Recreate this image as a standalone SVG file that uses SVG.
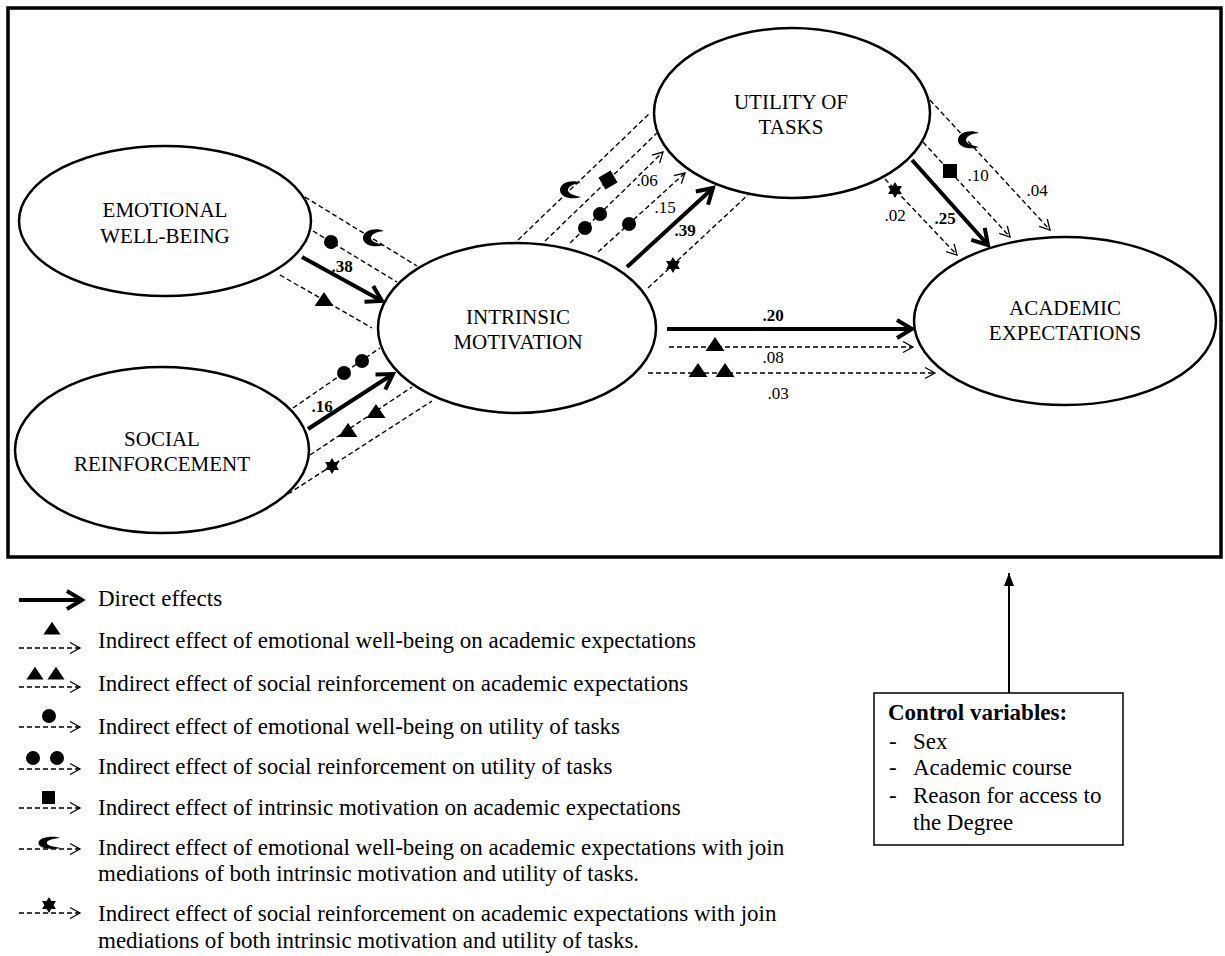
<svg xmlns="http://www.w3.org/2000/svg" width="1225" height="956" viewBox="0 0 1225 956">
<style>
.node ellipse{fill:#fff;stroke:#000;stroke-width:2.5}
.lbl{font-family:"Liberation Serif","Times New Roman",serif;font-size:21px;text-anchor:middle;fill:#000}
.coef{font-family:"Liberation Serif","Times New Roman",serif;font-size:17px;text-anchor:middle;fill:#000}
.b{font-weight:bold}
.direct{stroke:#000;stroke-width:4;fill:none;marker-end:url(#hd)}
.ind{stroke:#000;stroke-width:1.4;stroke-dasharray:5 3;fill:none}
.ia{marker-end:url(#hi)}
.leg{font-family:"Liberation Serif","Times New Roman",serif;font-size:23px;fill:#000}
.sym{fill:#000;stroke:none}
</style>
<defs>
<marker id="hd" markerUnits="userSpaceOnUse" viewBox="-20 -13 24 26" markerWidth="24" markerHeight="26" refX="0" refY="0" orient="auto">
<path d="M-15,-9 L0,0 L-15,9" fill="none" stroke="#000" stroke-width="4" stroke-dasharray="none"/>
</marker>
<marker id="hi" markerUnits="userSpaceOnUse" viewBox="-13 -8 15 16" markerWidth="15" markerHeight="16" refX="0" refY="0" orient="auto">
<path d="M-10,-5.5 L0,0 L-10,5.5" fill="none" stroke="#000" stroke-width="1.3" stroke-dasharray="none"/>
</marker>
<marker id="hc" markerUnits="userSpaceOnUse" viewBox="-14 -7 15 14" markerWidth="15" markerHeight="14" refX="0" refY="0" orient="auto">
<path d="M-13,-5 L0,0 L-13,5 Z" fill="#000" stroke="none"/>
</marker>
<path id="tri" d="M0,-8 L9.5,6 L-9.5,6 Z"/>
<circle id="dot" r="7"/>
<rect id="sq" x="-7" y="-7" width="14" height="14"/>
<path id="cres" d="M11,-7 C3,-11 -10,-8 -10,0 C-10,8 3,10 11,7 C2,5 -2,3 -2,0 C-2,-3 2,-6 11,-7 Z"/>
<path id="star" d="M0,-8 L6.93,4 L-6.93,4 Z M0,8 L-6.93,-4 L6.93,-4 Z"/>
</defs>

<rect x="8" y="8" width="1213" height="549" fill="none" stroke="#000" stroke-width="3.5"/>

<g id="node-emotional" class="node">
<ellipse cx="165" cy="221" rx="146" ry="75"/>
<text class="lbl" x="165" y="217">EMOTIONAL</text>
<text class="lbl" x="165" y="243">WELL-BEING</text>
</g>
<g id="node-social" class="node">
<ellipse cx="162" cy="450" rx="147" ry="83"/>
<text class="lbl" x="162" y="446">SOCIAL</text>
<text class="lbl" x="162" y="471">REINFORCEMENT</text>
</g>
<g id="node-intrinsic" class="node">
<ellipse cx="517" cy="328" rx="139" ry="85"/>
<text class="lbl" x="518" y="324">INTRINSIC</text>
<text class="lbl" x="518" y="349">MOTIVATION</text>
</g>
<g id="node-utility" class="node">
<ellipse cx="792" cy="113" rx="138" ry="85"/>
<text class="lbl" x="791" y="109">UTILITY OF</text>
<text class="lbl" x="791" y="134">TASKS</text>
</g>
<g id="node-academic" class="node">
<ellipse cx="1065" cy="321" rx="151" ry="84"/>
<text class="lbl" x="1065" y="315">ACADEMIC</text>
<text class="lbl" x="1065" y="340">EXPECTATIONS</text>
</g>

<g id="connectors">
<line class="ind" x1="305" y1="197" x2="417" y2="266"/>
<use href="#cres" class="sym" x="373" y="238"/>
<line class="ind" x1="313" y1="231" x2="397" y2="282"/>
<use href="#dot" class="sym" x="331" y="242"/>
<line class="direct" x1="302" y1="257" x2="382" y2="301"/>
<text class="coef b" x="342" y="272">.38</text>
<line class="ind" x1="280" y1="275" x2="372" y2="328"/>
<use href="#tri" class="sym" x="324" y="300"/>

<line class="ind" x1="293" y1="408" x2="380" y2="348"/>
<use href="#dot" class="sym" x="344" y="373"/>
<use href="#dot" class="sym" x="362" y="361"/>
<line class="direct" x1="308" y1="429" x2="393" y2="374"/>
<text class="coef b" x="322" y="412">.16</text>
<line class="ind" x1="310" y1="455" x2="412" y2="387"/>
<use href="#tri" class="sym" x="348" y="431"/>
<use href="#tri" class="sym" x="376" y="412"/>
<line class="ind" x1="288" y1="494" x2="432" y2="401"/>
<use href="#star" class="sym" x="332" y="466"/>

<line class="ind" x1="518" y1="240" x2="650" y2="113"/>
<use href="#cres" class="sym" x="570" y="190"/>
<line class="ind" x1="545" y1="241" x2="657" y2="133"/>
<use href="#sq" class="sym" transform="translate(608,180) rotate(-30)"/>
<line class="ind ia" x1="570" y1="243" x2="663" y2="152"/>
<use href="#dot" class="sym" x="585" y="228"/>
<use href="#dot" class="sym" x="600" y="214"/>
<text class="coef" x="647" y="186">.06</text>
<line class="ind ia" x1="598" y1="252" x2="685" y2="173"/>
<use href="#dot" class="sym" x="629" y="224"/>
<text class="coef" x="665" y="213">.15</text>
<line class="direct" x1="627" y1="267" x2="713" y2="188"/>
<text class="coef b" x="685" y="236">.39</text>
<line class="ind" x1="648" y1="288" x2="750" y2="193"/>
<use href="#star" class="sym" x="673" y="265"/>

<line class="ind ia" x1="930" y1="100" x2="1050" y2="230"/>
<use href="#cres" class="sym" x="968" y="140"/>
<text class="coef" x="1037" y="196">.04</text>
<line class="ind ia" x1="923" y1="142" x2="1010" y2="237"/>
<use href="#sq" class="sym" x="950" y="171"/>
<text class="coef" x="978" y="181">.10</text>
<line class="direct" x1="912" y1="160" x2="988" y2="245"/>
<text class="coef b" x="945" y="224">.25</text>
<line class="ind ia" x1="885" y1="179" x2="957" y2="255"/>
<use href="#star" class="sym" x="895" y="190"/>
<text class="coef" x="895" y="221">.02</text>

<line class="direct" x1="667" y1="329" x2="912" y2="329"/>
<text class="coef b" x="773" y="321">.20</text>
<line class="ind ia" x1="669" y1="347" x2="913" y2="347"/>
<use href="#tri" class="sym" x="715" y="345"/>
<text class="coef" x="773" y="363">.08</text>
<line class="ind ia" x1="648" y1="373" x2="935" y2="373"/>
<use href="#tri" class="sym" x="698" y="371"/>
<use href="#tri" class="sym" x="725" y="371"/>
<text class="coef" x="778" y="399">.03</text>

<line x1="1009" y1="693" x2="1009" y2="573" stroke="#000" stroke-width="2" marker-end="url(#hc)"/>
</g>

<g id="legend">
<line class="direct" x1="19" y1="600" x2="82" y2="600"/>
<text class="leg" x="98" y="606">Direct effects</text>

<line class="ind ia" x1="19" y1="648" x2="80" y2="648"/>
<use href="#tri" class="sym" transform="translate(52,629) scale(0.9)"/>
<text class="leg" x="98" y="648">Indirect effect of emotional well-being on academic expectations</text>

<line class="ind ia" x1="19" y1="687" x2="80" y2="687"/>
<use href="#tri" class="sym" transform="translate(35,674) scale(0.9)"/>
<use href="#tri" class="sym" transform="translate(56,674) scale(0.9)"/>
<text class="leg" x="98" y="691">Indirect effect of social reinforcement on academic expectations</text>

<line class="ind ia" x1="19" y1="727" x2="80" y2="727"/>
<use href="#dot" class="sym" x="49" y="716"/>
<text class="leg" x="98" y="734">Indirect effect of emotional well-being on utility of tasks</text>

<line class="ind ia" x1="19" y1="769" x2="80" y2="769"/>
<use href="#dot" class="sym" x="33" y="758"/>
<use href="#dot" class="sym" x="57" y="758"/>
<text class="leg" x="98" y="774">Indirect effect of social reinforcement on utility of tasks</text>

<line class="ind ia" x1="19" y1="808" x2="80" y2="808"/>
<rect class="sym" x="42" y="791" width="13" height="13"/>
<text class="leg" x="98" y="815">Indirect effect of intrinsic motivation on academic expectations</text>

<line class="ind ia" x1="19" y1="849" x2="80" y2="849"/>
<use href="#cres" class="sym" transform="translate(49,843) scale(1.05,0.7)"/>
<text class="leg" x="98" y="855">Indirect effect of emotional well-being on academic expectations with join</text>
<text class="leg" x="98" y="881">mediations of both intrinsic motivation and utility of tasks.</text>

<line class="ind ia" x1="19" y1="913" x2="80" y2="913"/>
<use href="#star" class="sym" x="49" y="905"/>
<text class="leg" x="98" y="921">Indirect effect of social reinforcement on academic expectations with join</text>
<text class="leg" x="98" y="948">mediations of both intrinsic motivation and utility of tasks.</text>
</g>

<g id="node-control">
<rect x="874" y="693" width="249" height="152" fill="#fff" stroke="#000" stroke-width="1.5"/>
<text class="leg b" x="888" y="720">Control variables:</text>
<text class="leg" x="889" y="749">-</text><text class="leg" x="913" y="749">Sex</text>
<text class="leg" x="889" y="775">-</text><text class="leg" x="913" y="775">Academic course</text>
<text class="leg" x="889" y="803">-</text><text class="leg" x="913" y="803">Reason for access to</text>
<text class="leg" x="913" y="830">the Degree</text>
</g>
</svg>
